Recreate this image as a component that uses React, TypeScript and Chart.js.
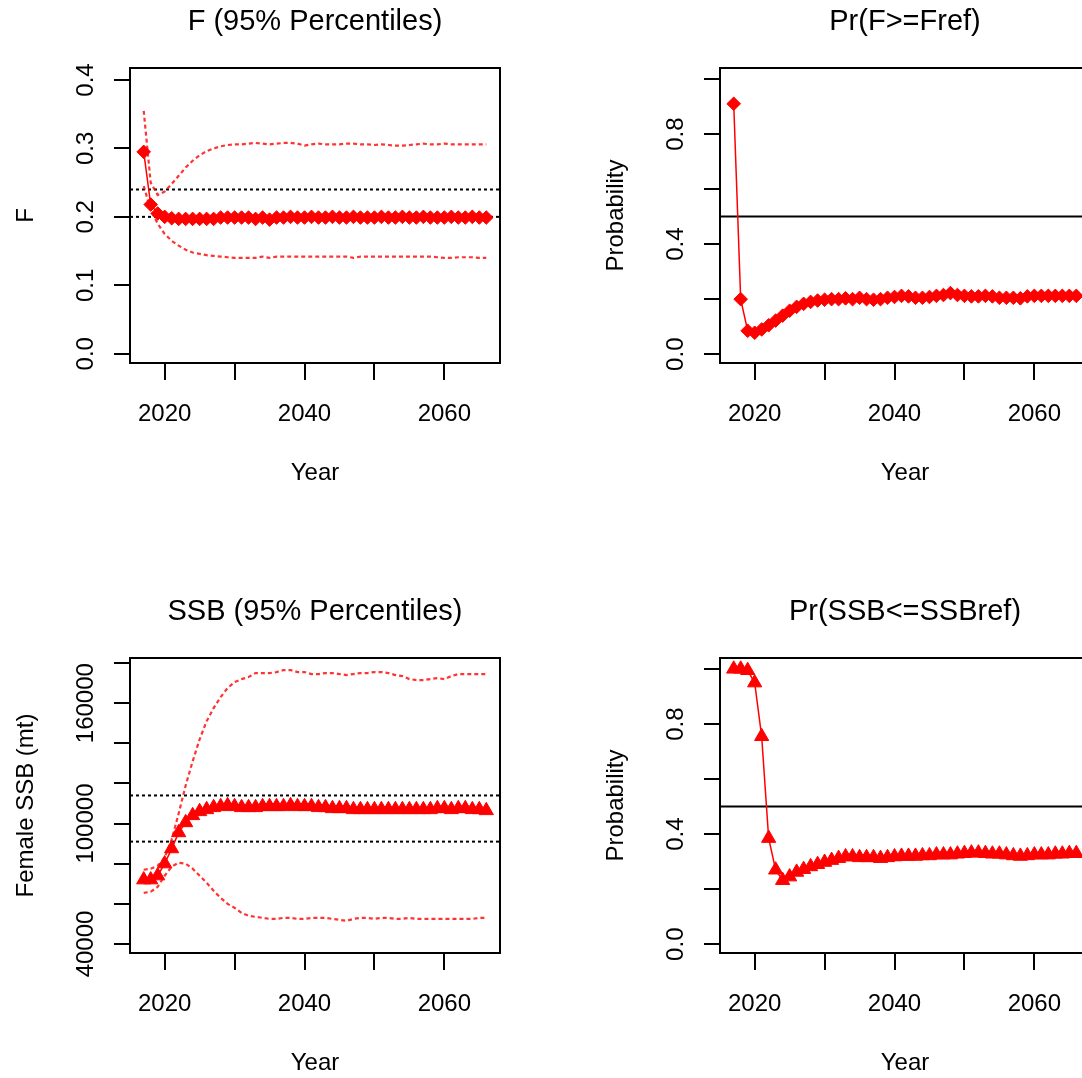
import React, { useEffect, useRef } from 'react';
import { Chart, registerables } from 'chart.js';

Chart.register(...registerables);

// ---------------- data ----------------
const YEARS = [
  2017, 2018, 2019, 2020, 2021, 2022, 2023, 2024, 2025, 2026,
  2027, 2028, 2029, 2030, 2031, 2032, 2033, 2034, 2035, 2036,
  2037, 2038, 2039, 2040, 2041, 2042, 2043, 2044, 2045, 2046,
  2047, 2048, 2049, 2050, 2051, 2052, 2053, 2054, 2055, 2056,
  2057, 2058, 2059, 2060, 2061, 2062, 2063, 2064, 2065, 2066,
];

const F_MEDIAN = [
  0.295, 0.218, 0.205, 0.2, 0.198, 0.197, 0.197, 0.197, 0.197, 0.197,
  0.197, 0.199, 0.199, 0.199, 0.199, 0.199, 0.197, 0.199, 0.196, 0.199,
  0.199, 0.2, 0.199, 0.199, 0.2, 0.199, 0.199, 0.2, 0.199, 0.199,
  0.2, 0.199, 0.199, 0.199, 0.2, 0.199, 0.199, 0.2, 0.199, 0.199,
  0.2, 0.199, 0.199, 0.199, 0.2, 0.199, 0.199, 0.2, 0.199, 0.199,
];
const F_UPPER = [
  0.355, 0.25, 0.232, 0.237, 0.248, 0.26, 0.272, 0.282, 0.29, 0.296,
  0.3, 0.303, 0.305, 0.306, 0.306, 0.307, 0.308, 0.307, 0.306, 0.307,
  0.308, 0.308, 0.307, 0.304, 0.306, 0.307, 0.306, 0.306, 0.306, 0.307,
  0.307, 0.306, 0.306, 0.305, 0.306, 0.305, 0.304, 0.304, 0.305, 0.306,
  0.307, 0.306, 0.306, 0.307, 0.306, 0.306, 0.306, 0.306, 0.306, 0.306,
];
const F_LOWER = [
  0.245, 0.21, 0.19, 0.175, 0.165, 0.158, 0.152, 0.148, 0.146, 0.144,
  0.143, 0.142, 0.141, 0.14, 0.14, 0.14, 0.14, 0.142, 0.14, 0.142,
  0.142, 0.142, 0.142, 0.142, 0.142, 0.142, 0.142, 0.142, 0.142, 0.142,
  0.14, 0.142, 0.142, 0.142, 0.142, 0.142, 0.142, 0.142, 0.142, 0.142,
  0.142, 0.142, 0.141, 0.14, 0.14, 0.141, 0.141, 0.141, 0.14, 0.14,
];
const F_REFS = [0.24, 0.2];

const PR_F = [
  0.91, 0.2, 0.085, 0.078, 0.09, 0.105, 0.122, 0.14, 0.158, 0.172,
  0.183, 0.19, 0.195, 0.198, 0.2, 0.2, 0.203, 0.2, 0.205, 0.2,
  0.198, 0.2, 0.205, 0.208, 0.212, 0.21, 0.205, 0.205, 0.208, 0.212,
  0.215, 0.222, 0.215, 0.212, 0.21, 0.21, 0.212, 0.21, 0.205, 0.205,
  0.205, 0.203, 0.21, 0.212, 0.212, 0.212, 0.212, 0.212, 0.212, 0.212,
];

const SSB_MEDIAN = [
  72000, 72000, 74000, 80000, 87500, 95500, 100500, 104000, 106000, 107000,
  108000, 108500, 109000, 108500, 108000, 108000, 108000, 108500, 108500, 108500,
  108500, 109000, 108500, 108500, 108500, 108000, 108000, 107500, 107500, 107500,
  107000, 107000, 107000, 107000, 107000, 107000, 107000, 107000, 107000, 107000,
  107000, 107000, 107500, 107500, 107000, 107500, 107500, 107000, 107000, 106500,
];
const SSB_UPPER = [
  77000, 77500, 79000, 83000, 92000, 105000, 119000, 131000, 142000, 151000,
  157500, 163000, 167500, 170500, 172000, 173000, 175000, 175000, 175000, 175500,
  176500, 176500, 175500, 175500, 174500, 174500, 175000, 175000, 174500, 174000,
  174500, 175000, 175000, 175500, 175500, 175000, 174000, 173500, 172000, 171500,
  171500, 172000, 172500, 172000, 173500, 174500, 174500, 174500, 174500, 174500,
];
const SSB_LOWER = [
  65500, 66000, 68500, 74000, 78500, 80500, 80000, 77500, 74000, 70500,
  66500, 63000, 60000, 58000, 55500, 54000, 53500, 53000, 52500, 52500,
  53000, 53000, 52500, 52500, 53000, 53000, 53000, 52500, 52000, 51500,
  52500, 53000, 53000, 52500, 53000, 53000, 52500, 52500, 53000, 52500,
  52500, 52500, 52500, 52500, 52500, 52500, 52500, 52500, 53000, 53000,
];
const SSB_REFS = [114000, 91000];

const PR_SSB = [
  1.0, 1.0, 0.995, 0.95, 0.755, 0.385, 0.27, 0.232, 0.245, 0.262,
  0.272, 0.282, 0.29, 0.298, 0.305, 0.312, 0.318, 0.318, 0.315, 0.315,
  0.315, 0.312, 0.315, 0.318, 0.32, 0.32, 0.32, 0.322, 0.322, 0.325,
  0.325, 0.325, 0.328, 0.33, 0.332, 0.332, 0.33, 0.328, 0.328, 0.325,
  0.322, 0.32, 0.322, 0.325, 0.325, 0.325, 0.328, 0.328, 0.33, 0.33,
];
const PROB_REF = 0.5;

// ---------------- axes ----------------
const X_MIN = 2015.04;
const X_MAX = 2067.96;
const X_TICKS = [2020, 2030, 2040, 2050, 2060];
const X_TICK_LABELS = [2020, 2040, 2060];

const F_TICKS = [0, 0.1, 0.2, 0.3, 0.4];
const F_TICK_LABELS = [0, 0.1, 0.2, 0.3, 0.4];
const PROB_TICKS = [0, 0.2, 0.4, 0.6, 0.8, 1.0];
const PROB_TICK_LABELS = [0, 0.4, 0.8];
const SSB_TICKS = [40000, 60000, 80000, 100000, 120000, 140000, 160000, 180000];
const SSB_TICK_LABELS = [40000, 100000, 160000];

// ---------------- styling ----------------
const FONT = 'Liberation Sans, Arial, sans-serif';
const RED = '#ff0000';
const CI_RED = 'rgba(255,0,0,0.8)';

const series = (ys: number[]) => YEARS.map((x, i) => ({ x, y: ys[i] }));
const hline = (y: number) => [{ x: X_MIN, y }, { x: X_MAX, y }];

const boxPlugin = {
  id: 'rbox',
  afterDraw(chart: any) {
    const { ctx, chartArea: a } = chart;
    ctx.save();
    ctx.strokeStyle = '#000';
    ctx.lineWidth = 2;
    ctx.strokeRect(a.left, a.top, a.right - a.left, a.bottom - a.top);
    ctx.restore();
  },
};

type Spec = {
  left: number;
  top: number;
  title: string;
  yTitle: string;
  yMin: number;
  yMax: number;
  yTicks: number[];
  yLabels: number[];
  fmt: (v: number) => string;
  tickPad: number;
  datasets: any[];
};

const medianDs = (ys: number[], style: string, r: number) => ({
  data: series(ys),
  borderColor: RED,
  borderWidth: 1.5,
  pointStyle: style,
  pointRadius: r,
  pointBackgroundColor: RED,
  pointBorderColor: RED,
  pointBorderWidth: 1,
});
const ciDs = (ys: number[]) => ({
  data: series(ys),
  borderColor: CI_RED,
  borderWidth: 2.2,
  borderDash: [4, 3],
  pointRadius: 0,
});
const refDs = (y: number, dotted: boolean) => ({
  data: hline(y),
  borderColor: '#000',
  borderWidth: 2,
  borderDash: dotted ? [3, 3] : [],
  pointRadius: 0,
});

const SPECS: Spec[] = [
  {
    left: 0,
    top: 0,
    title: 'F (95% Percentiles)',
    yTitle: 'F',
    yMin: -0.0135,
    yMax: 0.4175,
    yTicks: F_TICKS,
    yLabels: F_TICK_LABELS,
    fmt: (v) => v.toFixed(1),
    tickPad: 11,
    datasets: [
      medianDs(F_MEDIAN, 'rectRot', 6.8),
      ciDs(F_UPPER),
      ciDs(F_LOWER),
      ...F_REFS.map((r) => refDs(r, true)),
    ],
  },
  {
    left: 590,
    top: 0,
    title: 'Pr(F>=Fref)',
    yTitle: 'Probability',
    yMin: -0.032,
    yMax: 1.04,
    yTicks: PROB_TICKS,
    yLabels: PROB_TICK_LABELS,
    fmt: (v) => v.toFixed(1),
    tickPad: 11,
    datasets: [medianDs(PR_F, 'rectRot', 6.8), refDs(PROB_REF, false)],
  },
  {
    left: 0,
    top: 590,
    title: 'SSB (95% Percentiles)',
    yTitle: 'Female SSB (mt)',
    yMin: 35500,
    yMax: 182500,
    yTicks: SSB_TICKS,
    yLabels: SSB_TICK_LABELS,
    fmt: (v) => String(v),
    tickPad: -12,
    datasets: [
      medianDs(SSB_MEDIAN, 'triangle', 8.2),
      ciDs(SSB_UPPER),
      ciDs(SSB_LOWER),
      ...SSB_REFS.map((r) => refDs(r, true)),
    ],
  },
  {
    left: 590,
    top: 590,
    title: 'Pr(SSB<=SSBref)',
    yTitle: 'Probability',
    yMin: -0.032,
    yMax: 1.04,
    yTicks: PROB_TICKS,
    yLabels: PROB_TICK_LABELS,
    fmt: (v) => v.toFixed(1),
    tickPad: 11,
    datasets: [medianDs(PR_SSB, 'triangle', 8.2), refDs(PROB_REF, false)],
  },
];

const W = 540;
const H = 540;

function Panel({ spec }: { spec: Spec }) {
  const ref = useRef<HTMLCanvasElement | null>(null);
  useEffect(() => {
    if (!ref.current) return;
    const tickFont = { family: FONT, size: 24 };
    const chart = new Chart(ref.current, {
      type: 'line',
      data: { datasets: spec.datasets },
      plugins: [boxPlugin],
      options: {
        responsive: false,
        animation: false,
        devicePixelRatio: 1,
        layout: { padding: { left: 0, right: 40, top: 0, bottom: 0 } },
        plugins: {
          legend: { display: false },
          tooltip: { enabled: false },
          title: {
            display: true,
            text: spec.title,
            fullSize: false,
            color: '#000',
            font: { family: FONT, size: 29, weight: 'normal' },
            padding: { top: 4.2, bottom: 29 },
          },
        },
        scales: {
          x: {
            type: 'linear',
            position: 'bottom',
            min: X_MIN,
            max: X_MAX,
            afterBuildTicks: (s: any) => {
              s.ticks = X_TICKS.map((v) => ({ value: v }));
            },
            afterFit: (s: any) => {
              s.height = 177;
            },
            grid: { drawOnChartArea: false, drawTicks: true, tickLength: 17, color: '#000', lineWidth: 2 },
            border: { display: false },
            ticks: {
              autoSkip: false,
              minRotation: 0,
              maxRotation: 0,
              padding: 19.6,
              color: '#000',
              font: tickFont,
              callback: (v: any) => (X_TICK_LABELS.includes(v) ? String(v) : ''),
            },
            title: {
              display: true,
              text: 'Year',
              color: '#000',
              font: tickFont,
              padding: { top: 0, bottom: 52.6 },
            },
          },
          y: {
            type: 'linear',
            position: 'left',
            min: spec.yMin,
            max: spec.yMax,
            afterBuildTicks: (s: any) => {
              s.ticks = spec.yTicks.map((v) => ({ value: v }));
            },
            afterFit: (s: any) => {
              s.width = 130;
            },
            grid: { drawOnChartArea: false, drawTicks: true, tickLength: 16, color: '#000', lineWidth: 2 },
            border: { display: false },
            ticks: {
              autoSkip: false,
              minRotation: 90,
              maxRotation: 90,
              crossAlign: 'center',
              padding: spec.tickPad,
              color: '#000',
              font: tickFont,
              callback: (v: any) => (spec.yLabels.includes(v) ? spec.fmt(v) : ''),
            },
            title: {
              display: true,
              text: spec.yTitle,
              color: '#000',
              font: tickFont,
              padding: { top: 12, bottom: 0 },
            },
          },
        },
      } as any,
    });
    return () => chart.destroy();
  }, [spec]);
  return (
    <canvas
      ref={ref}
      width={W}
      height={H}
      style={{ position: 'absolute', left: spec.left, top: spec.top, width: W, height: H }}
    />
  );
}

export default function App() {
  return (
    <div
      style={{
        position: 'fixed',
        left: 0,
        top: 0,
        width: 1082,
        height: 1078,
        overflow: 'hidden',
        background: '#fff',
      }}
    >
      {SPECS.map((s, i) => (
        <Panel key={i} spec={s} />
      ))}
    </div>
  );
}
